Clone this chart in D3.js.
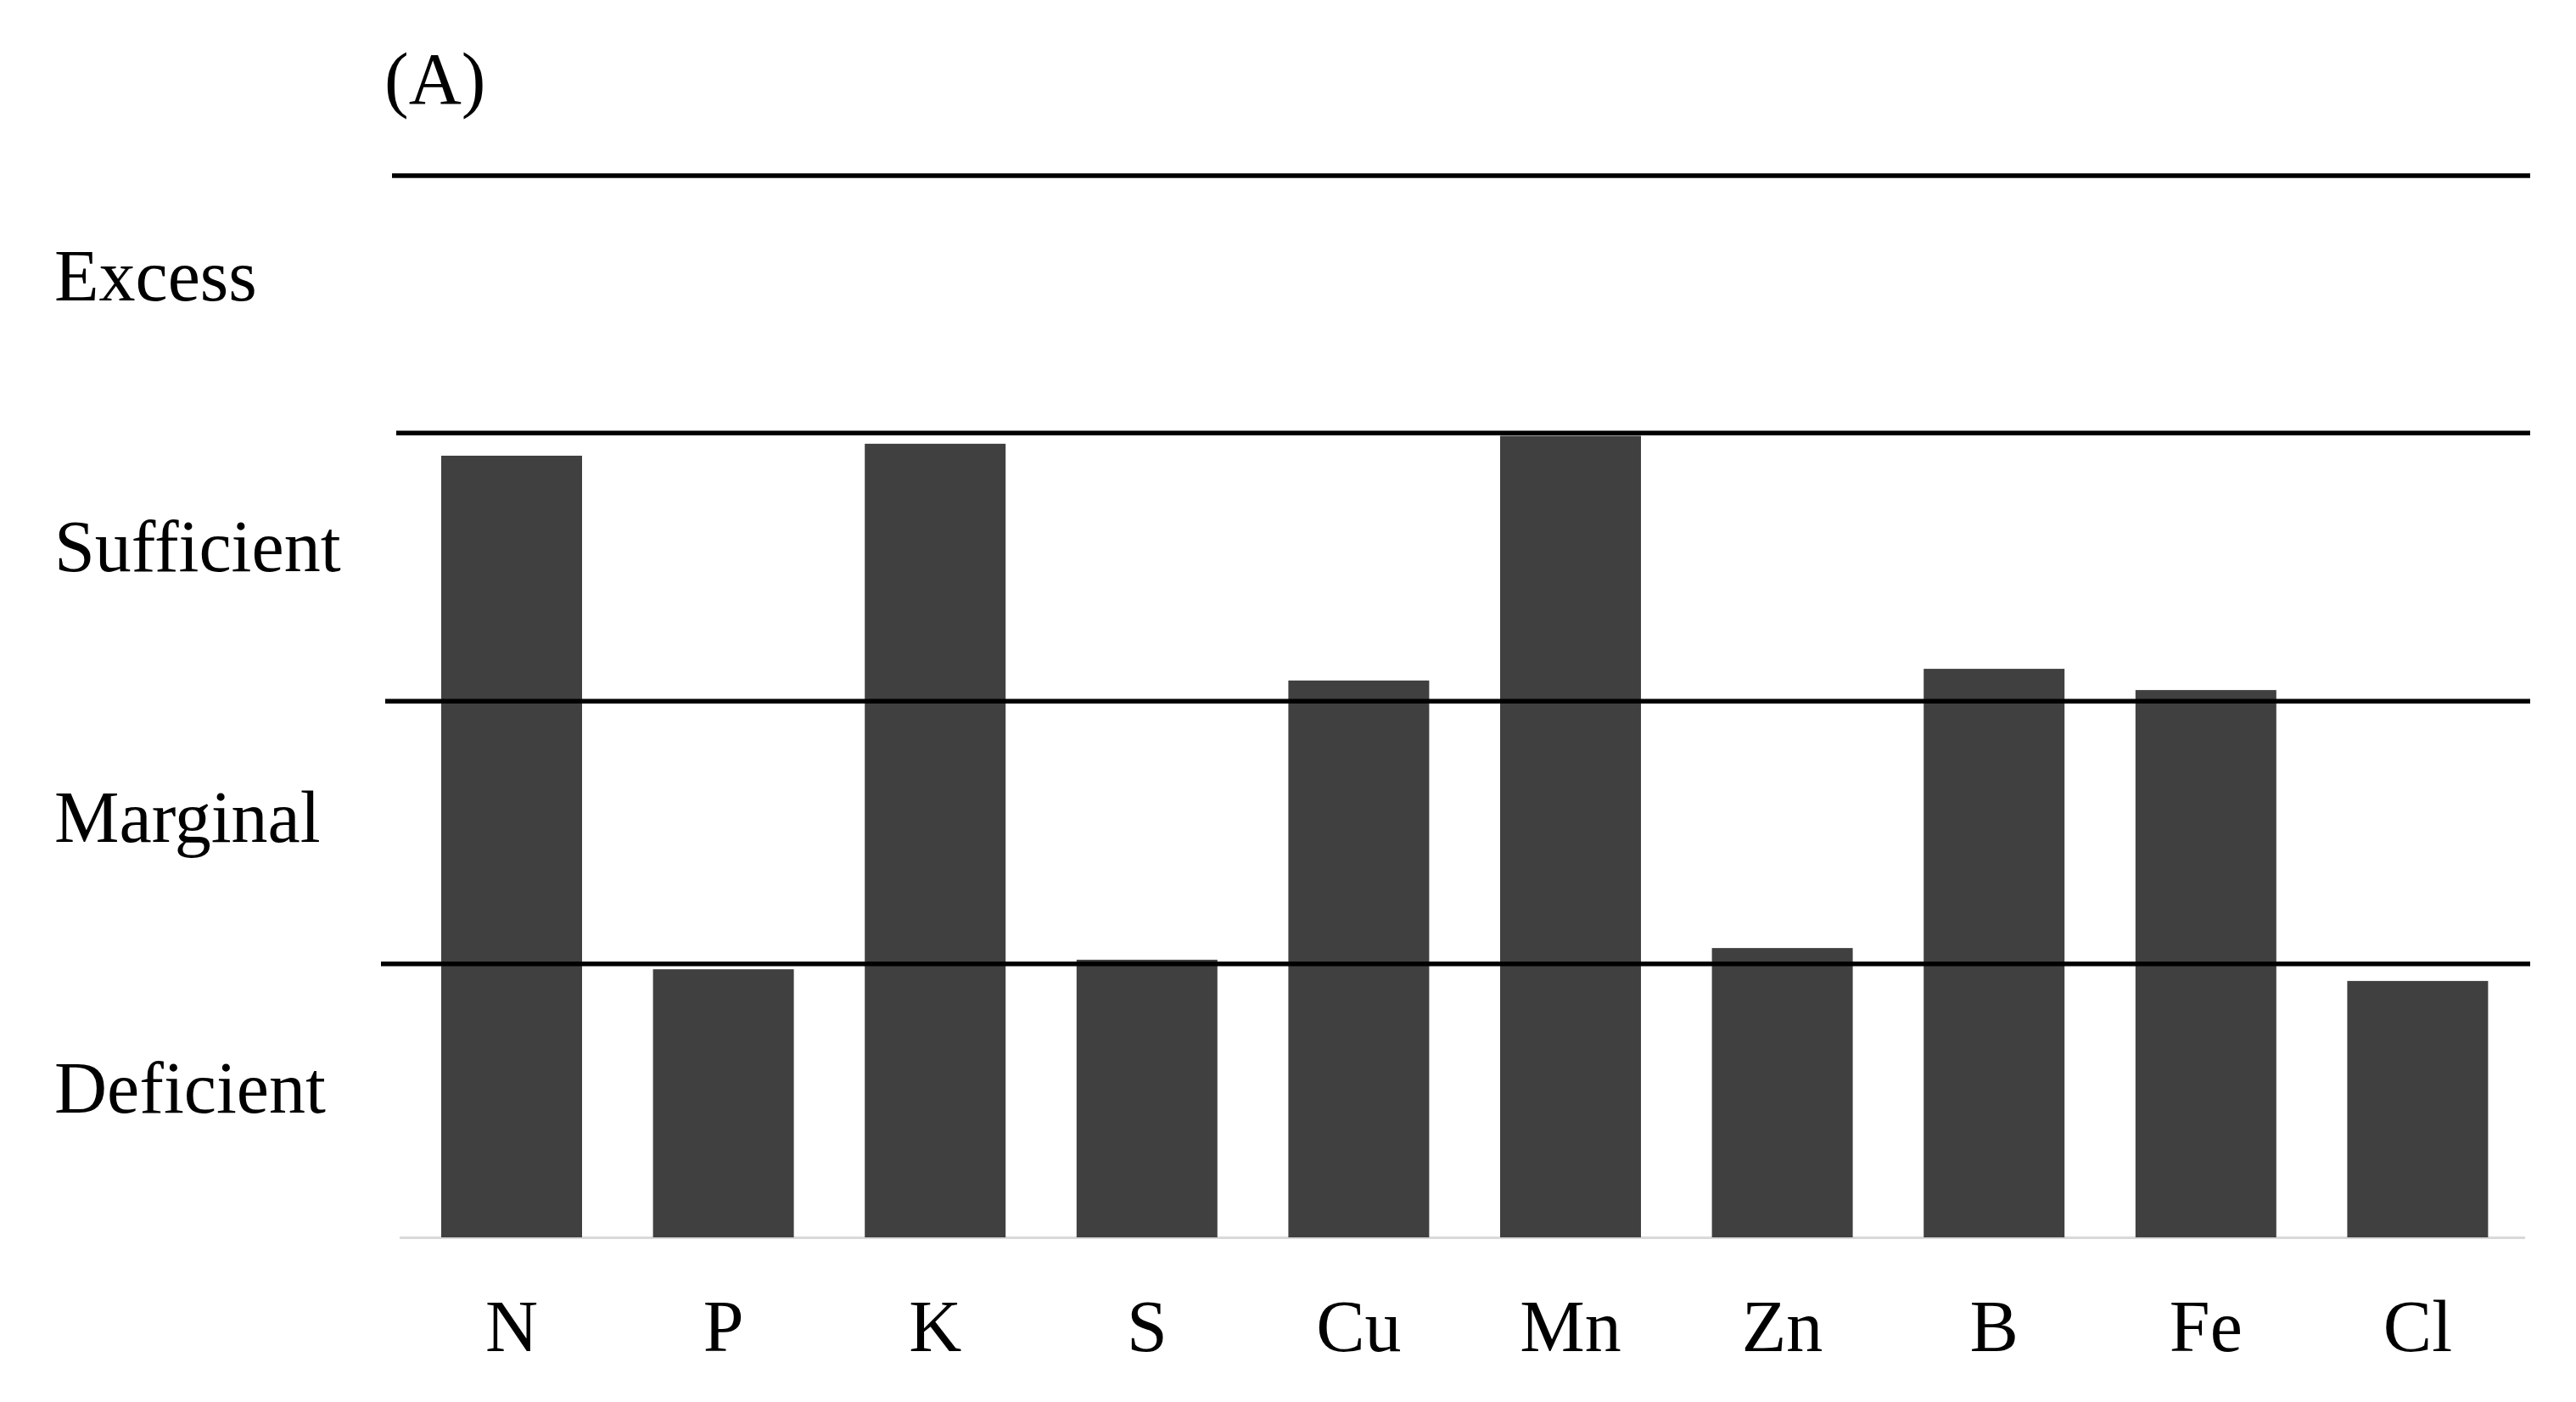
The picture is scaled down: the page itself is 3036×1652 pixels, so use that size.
<!DOCTYPE html>
<html>
<head>
<meta charset="utf-8">
<script src="https://cdn.jsdelivr.net/npm/d3@7"></script>
<style>
  html, body { margin: 0; padding: 0; background: #ffffff; }
  svg { display: block; }
  text { font-family: "Liberation Serif", "Times New Roman", serif; fill: #000; }
</style>
</head>
<body>
<svg id="chart" width="3036" height="1652"></svg>
<script>
// ---- data ----
const categories = ["N", "P", "K", "S", "Cu", "Mn", "Zn", "B", "Fe", "Cl"];
const values = [2.945, 1.01, 2.99, 1.046, 2.098, 3.02, 1.09, 2.142, 2.062, 0.966];
const levelLabels = ["Excess", "Sufficient", "Marginal", "Deficient"];
const thresholds = [1.03, 2.02, 3.03, 4.0];
const panelLabel = "(A)";

// ---- layout ----
const svg = d3.select("#chart");

const x = d3.scaleBand()
  .domain(categories)
  .range([478.2, 2974.2])
  .paddingInner(0.335)
  .paddingOuter(0.1675);

const y = d3.scaleLinear()
  .domain([0, 4])
  .range([1458, 207]);

// baseline
svg.append("line")
  .attr("x1", 471).attr("x2", 2976)
  .attr("y1", y(0) + 0.5).attr("y2", y(0) + 0.5)
  .attr("stroke", "#d9d9d9").attr("stroke-width", 3);

// bars
svg.append("g").selectAll("rect")
  .data(categories)
  .join("rect")
  .attr("x", d => x(d))
  .attr("width", x.bandwidth())
  .attr("y", (d, i) => y(values[i]))
  .attr("height", (d, i) => y(0) - y(values[i]))
  .attr("fill", "#404040");

// threshold lines (drawn over bars)
const lineStarts = [449, 454, 467, 462];
svg.append("g").selectAll("line")
  .data(thresholds)
  .join("line")
  .attr("x1", (d, i) => lineStarts[i])
  .attr("x2", 2982)
  .attr("y1", d => y(d))
  .attr("y2", d => y(d))
  .attr("stroke", "#000")
  .attr("stroke-width", 5.5);

// level labels
svg.append("g").selectAll("text")
  .data(levelLabels)
  .join("text")
  .attr("x", 64)
  .attr("y", (d, i) => 354 + i * 319)
  .attr("font-size", 86)
  .text(d => d);

// x-axis labels via d3 axis
const xAxis = d3.axisBottom(x).tickSize(0).tickPadding(0);
const gx = svg.append("g")
  .attr("transform", `translate(0, ${y(0)})`)
  .call(xAxis);
gx.select(".domain").remove();
gx.selectAll("text")
  .attr("font-family", "Liberation Serif, Times New Roman, serif")
  .attr("font-size", 86)
  .attr("fill", "#000")
  .attr("dy", null)
  .attr("y", 134);

// panel label
svg.append("text")
  .attr("x", 453)
  .attr("y", 122)
  .attr("font-size", 86)
  .text(panelLabel);
</script>
</body>
</html>
